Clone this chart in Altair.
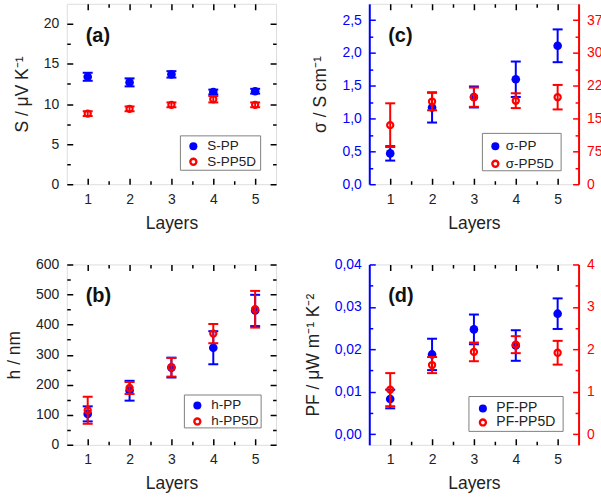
import altair as alt
import pandas as pd

FONT = "Liberation Sans"
BLUE = "#0000ff"
RED = "#ff0000"
W, H = 210, 181          # plot area of every panel
MAJ, MIN = 6, 3.5        # inward tick lengths (drawn as dashed grid lines)

layers = [1, 2, 3, 4, 5]

# (a) Seebeck coefficient, µV/K
s_pp = [13.4, 12.7, 13.7, 11.5, 11.6]
s_pp_err = [0.5, 0.5, 0.4, 0.3, 0.3]
s_pp5d = [8.8, 9.4, 9.9, 10.6, 9.9]
s_pp5d_err = [0.3, 0.3, 0.3, 0.4, 0.3]

# (b) film thickness, nm
h_pp = [103, 180, 257, 323, 447]
h_pp_err = [25, 33, 33, 55, 52]
h_pp5d = [115, 189, 258, 370, 451]
h_pp5d_err = [45, 20, 31, 32, 61]

# (c) electrical conductivity, S/cm (PP5D on the right axis)
sig_pp = [0.47, 1.17, 1.33, 1.60, 2.11]
sig_pp_err = [0.11, 0.23, 0.16, 0.27, 0.25]
sig_pp5d = [135, 189, 199, 191, 199]
sig_pp5d_err = [50, 20, 22, 17, 28]

# (d) power factor, µW m^-1 K^-2 (PP5D on the right axis)
pf_pp = [0.0083, 0.0188, 0.0247, 0.0209, 0.0284]
pf_pp_err = [0.0022, 0.0037, 0.0035, 0.0036, 0.0036]
pf_pp5d = [1.05, 1.63, 1.94, 2.11, 1.92]
pf_pp5d_err = [0.39, 0.19, 0.22, 0.20, 0.28]

panel_tags = ["(a)", "(b)", "(c)", "(d)"]
x_title = "Layers"
y_titles = ["S / μV K⁻¹", "h / nm", "σ / S cm⁻¹", "PF / μW m⁻¹ K⁻²"]
legend_names = [["S-PP", "S-PP5D"], ["h-PP", "h-PP5D"],
                ["σ-PP", "σ-PP5D"], ["PF-PP", "PF-PP5D"]]

# tick positions (major + minor)
x_ticks = [1, 1.5, 2, 2.5, 3, 3.5, 4, 4.5, 5]
s_ticks = [0, 2.5, 5, 7.5, 10, 12.5, 15, 17.5, 20]
h_ticks = [0, 50, 100, 150, 200, 250, 300, 350, 400, 450, 500, 550, 600]
sig_ticks = [0, 0.25, 0.5, 0.75, 1.0, 1.25, 1.5, 1.75, 2.0, 2.25, 2.5]
sig5d_ticks = [0, 37.5, 75, 112.5, 150, 187.5, 225, 262.5, 300, 337.5, 375]
pf_ticks = [0, 0.005, 0.01, 0.015, 0.02, 0.025, 0.03, 0.035, 0.04]
pf5d_ticks = [0, 0.5, 1, 1.5, 2, 2.5, 3, 3.5, 4]


def is_major(step):
    return f"abs(datum.value / {step} - round(datum.value / {step})) < 1e-6"


def grid_dash(test, length, mirror):
    if mirror:
        major = [MAJ, length - 2 * MAJ, MAJ]
        minor = [MIN, length - 2 * MIN, MIN]
    else:
        major = [MAJ, 3000]
        minor = [MIN, 3000]
    return {"condition": {"test": test, "value": major}, "value": minor}


X_AXIS = alt.Axis(
    title=x_title, values=x_ticks,
    labelExpr=f"{is_major(1)} ? format(datum.value, 'd') : ''",
    ticks=False, tickSize=0, domain=False,
    grid=True, gridColor="black", gridWidth=1.5,
    gridDash=grid_dash(is_major(1), H, True),
    labelFont=FONT, labelFontSize=14, labelColor="#222", labelPadding=8,
    labelFlush=False, labelOverlap=False,
    titleFont=FONT, titleFontSize=17.5, titleFontWeight="normal",
    titleColor="#222", titlePadding=8,
)


def y_axis(title, values, step, fmt, color, orient="left", mirror=True, comma=False):
    lab = f"format(datum.value, '{fmt}')"
    if comma:
        lab = f"replace({lab}, '.', ',')"
    kw = dict(
        orient=orient, values=values,
        labelExpr=f"{is_major(step)} ? {lab} : ''",
        ticks=False, tickSize=0,
        grid=True, gridColor=color if not mirror else "black", gridWidth=1.5,
        gridDash=grid_dash(is_major(step), W, mirror),
        labelFont=FONT, labelFontSize=14,
        labelColor=color if not mirror else "#222",
        labelPadding=8, labelFlush=False, labelOverlap=False,
        titleFont=FONT, titleFontSize=17.5, titleFontWeight="normal",
        titleColor="#222", titlePadding=12,
    )
    if mirror:
        kw["domain"] = False
    else:
        kw.update(domain=True, domainColor=color, domainWidth=2)
    kw["title"] = title if title else None
    return alt.Axis(**kw)


def series(vals, errs, color, filled, ydomain, yaxis):
    df = pd.DataFrame({"layer": layers, "v": vals, "e": errs})
    df["lo"] = df["v"] - df["e"]
    df["hi"] = df["v"] + df["e"]
    xs = alt.X("layer:Q", scale=alt.Scale(domain=[0.5, 5.5], nice=False, zero=False), axis=X_AXIS)
    ysc = alt.Scale(domain=ydomain, nice=False, zero=False)
    base = alt.Chart(df)
    bar = base.mark_rule(color=color, strokeWidth=2).encode(
        x=xs, y=alt.Y("lo:Q", scale=ysc, axis=yaxis), y2="hi:Q")
    cap_lo = base.mark_tick(color=color, orient="horizontal", size=10, thickness=2, opacity=1).encode(
        x=xs, y=alt.Y("lo:Q", scale=ysc, axis=yaxis))
    cap_hi = base.mark_tick(color=color, orient="horizontal", size=10, thickness=2, opacity=1).encode(
        x=xs, y=alt.Y("hi:Q", scale=ysc, axis=yaxis))
    if filled:
        pt = base.mark_point(filled=True, color=color, size=75, opacity=1)
    else:
        pt = base.mark_point(filled=False, color=color, size=38, strokeWidth=2.2, opacity=1)
    pt = pt.encode(x=xs, y=alt.Y("v:Q", scale=ysc, axis=yaxis))
    return alt.layer(bar, cap_lo, cap_hi, pt)


def decorations(tag, names, box, sym_x, rows, text_x, fs=13.5):
    d = pd.DataFrame({"name": names, "tag": [tag, tag]})
    base = alt.Chart(d)
    first = base.transform_filter(alt.datum.name == names[0])
    second = base.transform_filter(alt.datum.name == names[1])
    label = first.mark_text(align="left", baseline="alphabetic", font=FONT,
                            fontSize=20, fontWeight="bold", color="#111").encode(
        x=alt.value(19), y=alt.value(38), text="tag:N")
    rect = first.mark_rect(fill="white", stroke="#808080", strokeWidth=1).encode(
        x=alt.value(box[0]), x2=alt.value(box[2]), y=alt.value(box[1]), y2=alt.value(box[3]))
    p1 = first.mark_point(filled=True, color=BLUE, size=65, opacity=1).encode(
        x=alt.value(sym_x), y=alt.value(rows[0]))
    p2 = second.mark_point(filled=False, color=RED, size=36, strokeWidth=2.4, opacity=1).encode(
        x=alt.value(sym_x), y=alt.value(rows[1]))
    t1 = first.mark_text(align="left", baseline="middle", font=FONT, fontSize=fs, color="#222").encode(
        x=alt.value(text_x), y=alt.value(rows[0]), text="name:N")
    t2 = second.mark_text(align="left", baseline="middle", font=FONT, fontSize=fs, color="#222").encode(
        x=alt.value(text_x), y=alt.value(rows[1]), text="name:N")
    return alt.layer(label, rect, p1, p2, t1, t2)


# (a)
ax_a = y_axis(y_titles[0], s_ticks, 5, "d", "black")
panel_a = alt.layer(
    series(s_pp, s_pp_err, BLUE, True, [0, 22.5], ax_a),
    series(s_pp5d, s_pp5d_err, RED, False, [0, 22.5], ax_a),
    decorations(panel_tags[0], legend_names[0], (114, 132.5, 194.5, 167), 127, (143, 158.5), 141),
).properties(width=W, height=H)

# (b)
ax_b = y_axis(y_titles[1], h_ticks, 100, "d", "black")
panel_b = alt.layer(
    series(h_pp, h_pp_err, BLUE, True, [0, 600], ax_b),
    series(h_pp5d, h_pp5d_err, RED, False, [0, 600], ax_b),
    decorations(panel_tags[1], legend_names[1], (118, 131, 195, 164), 131, (141.5, 157.5), 145),
).properties(width=W, height=H)

# (c)
ax_c_l = y_axis(y_titles[2], sig_ticks, 0.5, ".1f", BLUE, "left", False, True)
ax_c_r = y_axis(None, sig5d_ticks, 75, "d", RED, "right", False)
panel_c = alt.layer(
    series(sig_pp, sig_pp_err, BLUE, True, [0, 2.75], ax_c_l),
    series(sig_pp5d, sig_pp5d_err, RED, False, [0, 412.5], ax_c_r),
    decorations(panel_tags[2], legend_names[2], (113.5, 130, 192.5, 167.5), 126.5, (143, 160.5), 137),
).resolve_scale(y="independent").properties(width=W, height=H)

# (d)
ax_d_l = y_axis(y_titles[3], pf_ticks, 0.01, ".2f", BLUE, "left", False, True)
ax_d_r = y_axis(None, pf5d_ticks, 1, "d", RED, "right", False)
panel_d = alt.layer(
    series(pf_pp, pf_pp_err, BLUE, True, [-0.0025, 0.04], ax_d_l),
    series(pf_pp5d, pf_pp5d_err, RED, False, [-0.25, 4], ax_d_r),
    decorations(panel_tags[3], legend_names[3], (100, 132.5, 194.5, 167.5), 114, (144.5, 158.5), 127.5, 14),
).resolve_scale(y="independent").properties(width=W, height=H)

chart = alt.concat(
    panel_a, panel_c, panel_b, panel_d,
    columns=2, spacing={"row": 80.5, "column": 93.5}, bounds="flush",
).resolve_scale(x="independent", y="independent").properties(
    padding={"left": 5, "top": 2, "right": -10, "bottom": 2},
).configure_view(stroke="black", strokeWidth=2).configure(background="white")

chart.save("out.html", embed_options={"renderer": "svg", "actions": False})
